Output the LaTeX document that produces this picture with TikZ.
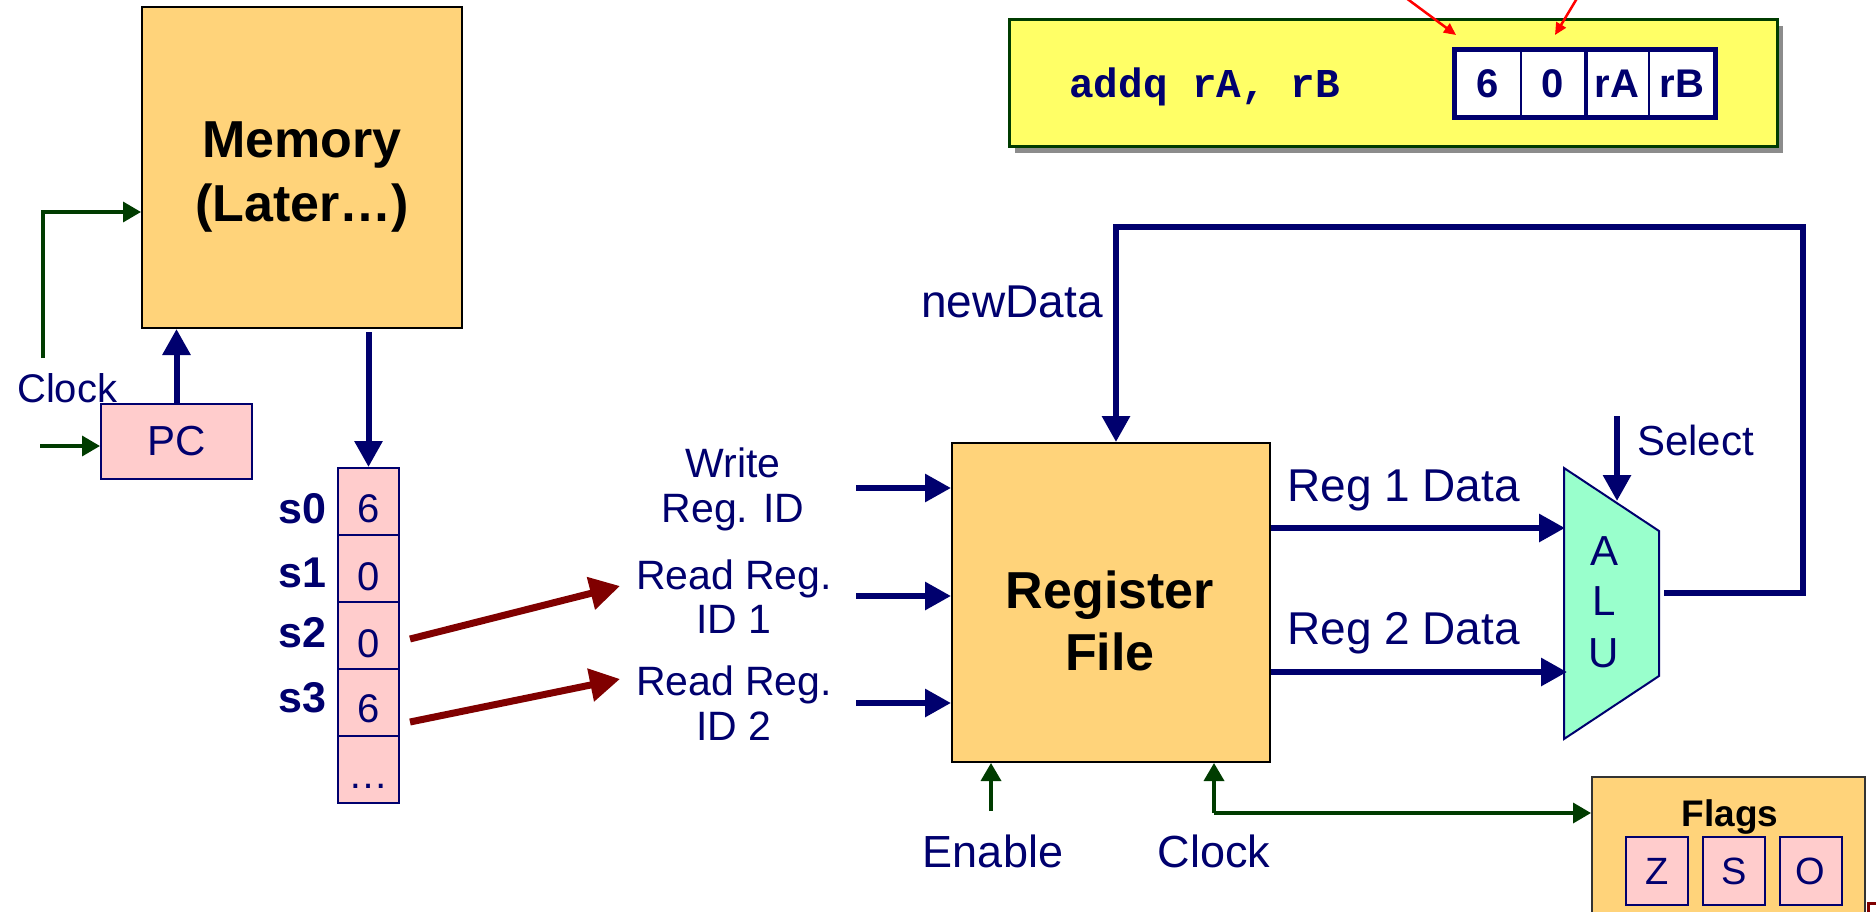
\documentclass[tikz,border=0pt]{standalone}
\usepackage{fontspec}
\setmainfont{Liberation Sans}
\setmonofont{Liberation Mono}
\usetikzlibrary{arrows.meta,shadows,calc}
\definecolor{navy}{RGB}{0,0,110}
\definecolor{dgreen}{RGB}{0,60,0}
\definecolor{dred}{RGB}{128,0,0}
\definecolor{boxor}{RGB}{255,211,122}
\definecolor{pinkc}{RGB}{255,204,204}
\definecolor{alugr}{RGB}{153,255,204}
\definecolor{yel}{RGB}{255,255,102}
\newcommand\fsz[1]{\fontsize{#1}{#1}\selectfont}
\begin{document}
\begin{tikzpicture}[x=1pt,y=-1pt,
  bus/.style={draw=navy,line width=6pt,-{Triangle[length=26pt,width=27pt]}},
  clk/.style={draw=dgreen,line width=3.5pt,-{Triangle[length=18pt,width=20pt]}},
  idarr/.style={draw=dred,line width=7pt,-{Triangle[length=30pt,width=32pt]}},
  thinred/.style={draw=red,line width=2.5pt,-{Triangle[length=12pt,width=11pt]}},
  unit/.style={draw=black,line width=2pt,fill=boxor,inner sep=0pt},
  cell/.style={draw=navy,line width=2pt,fill=pinkc,inner sep=0pt,text=navy,font=\fsz{40}},
  lbl/.style={text=navy,inner sep=0pt,font=\fsz{42}},
  big/.style={text=black,inner sep=0pt,font=\fsz{52}\bfseries},
  byte/.style={draw=navy,line width=1.5pt,fill=white,inner sep=0pt,text=navy,font=\fsz{40}\bfseries,minimum height=67pt},
  sreg/.style={text=navy,inner sep=0pt,font=\fsz{43}\bfseries,anchor=base east},
  flag/.style={draw=navy,line width=2pt,fill=pinkc,inner sep=0pt,text=navy,font=\fsz{38},minimum width=62pt,minimum height=68pt}
]
\useasboundingbox (0,0) rectangle (1876,912);
\fill[white] (0,0) rectangle (1876,912);

% ---------- instruction box ----------
\node[draw=dgreen,line width=3pt,fill=yel,minimum width=768pt,minimum height=127pt,
      drop shadow={shadow xshift=6pt,shadow yshift=-6pt,fill=black!45,opacity=1}] (instr) at (1393,83.5) {};
\node[anchor=base west,inner sep=0pt,text=navy,font=\fsz{41}\ttfamily\bfseries] (asm) at (1069,98) {addq rA, rB};
\node[byte,minimum width=66pt] (b0) at (1488,83.5) {6};
\node[byte,minimum width=64pt] (b1) at (1553,83.5) {0};
\node[byte,minimum width=64pt] (b2) at (1617,83.5) {rA};
\node[byte,minimum width=66pt] (b3) at (1682,83.5) {rB};
\draw[navy,line width=5pt] (b0.north west) rectangle (b3.south east);
\draw[navy,line width=4pt] (b1.north east) -- (b1.south east);
\coordinate (ra0) at (1402,-5);
\coordinate (ra1) at (1456,35);
\coordinate (rb0) at (1579,-5);
\coordinate (rb1) at (1555,35);
\draw[thinred] (ra0) -- (ra1);
\draw[thinred] (rb0) -- (rb1);

% ---------- memory and PC ----------
\node[unit,minimum width=320pt,minimum height=321pt] (mem) at (302,167.5) {};
\node[big,anchor=base] (memt1) at (302,158) {Memory};
\node[big,anchor=base] (memt2) at (302,222) {(Later…)};
\node[cell,font=\fsz{42},minimum width=151pt,minimum height=75pt] (pc) at (176.5,441.5) {PC};
\node[lbl,anchor=base west,font=\fsz{40}] (clkL) at (17,402) {Clock};
\coordinate (clk1) at (43,358);
\coordinate (y212) at (0,212);
\draw[clk] (clk1) |- (mem.west |- y212);
\coordinate (pcin) at (40,446);
\draw[clk] (pcin) -- (pcin -| pc.west);
\draw[bus] (pc.north) -- (pc.north |- mem.south);

% ---------- register column ----------
\node[cell,minimum width=61pt,minimum height=67pt] (c0) at (368.5,501.5) {};
\node[cell,minimum width=61pt,minimum height=67pt] (c1) at (368.5,568.5) {};
\node[cell,minimum width=61pt,minimum height=67pt] (c2) at (368.5,635.5) {};
\node[cell,minimum width=61pt,minimum height=67pt] (c3) at (368.5,702.5) {};
\node[cell,minimum width=61pt,minimum height=67pt] (c4) at (368.5,769.5) {};
\node[lbl,anchor=base,font=\fsz{40}] (v0) at (368.5,522) {6};
\node[lbl,anchor=base,font=\fsz{40}] (v1) at (368.5,590) {0};
\node[lbl,anchor=base,font=\fsz{40}] (v2) at (368.5,657) {0};
\node[lbl,anchor=base,font=\fsz{40}] (v3) at (368.5,722) {6};
\node[lbl,anchor=base,font=\fsz{40}] (dots) at (368.5,788) {…};
\node[sreg] (s0) at (327,523) {s0};
\node[sreg] (s1) at (327,587) {s1};
\node[sreg] (s2) at (327,647) {s2};
\node[sreg] (s3) at (327,712) {s3};
\draw[bus,shorten <=3pt] (c0.north |- mem.south) -- (c0.north);

% ---------- register IDs ----------
\coordinate (r1tip) at (620,586);
\coordinate (r2tip) at (620,679);
\draw[idarr] ([xshift=10pt,yshift=-3.5pt]c2.east) -- (r1tip);
\draw[idarr] ([xshift=10pt,yshift=-19.5pt]c3.east) -- (r2tip);
\node[lbl,anchor=base,font=\fsz{41}] (w1) at (733,477) {Write};
\node[lbl,anchor=base,font=\fsz{41}] (w2) at (733,522) {Reg. ID};
\node[lbl,anchor=base,font=\fsz{41}] (ra) at (734,589) {Read Reg.};
\node[lbl,anchor=base,font=\fsz{41}] (ra2) at (734,633) {ID 1};
\node[lbl,anchor=base,font=\fsz{41}] (rb) at (734,695) {Read Reg.};
\node[lbl,anchor=base,font=\fsz{41}] (rb2) at (734,740) {ID 2};

% ---------- register file ----------
\node[unit,minimum width=318pt,minimum height=319pt] (rf) at (1111,602.5) {};
\node[big,anchor=base] (rft1) at (1110,608) {Register};
\node[big,anchor=base] (rft2) at (1110,670) {File};
\coordinate (wid) at (856,488);
\coordinate (rid1) at (856,596);
\coordinate (rid2) at (856,703);
\draw[bus] (wid) -- (wid -| rf.west);
\draw[bus] (rid1) -- (rid1 -| rf.west);
\draw[bus] (rid2) -- (rid2 -| rf.west);

% ---------- ALU ----------
\draw[navy,line width=2pt,fill=alugr,line join=miter] (1564,468) -- (1659,531) -- (1659,676) -- (1564,739) -- cycle;
\node[lbl,anchor=base] (aA) at (1604,565) {A};
\node[lbl,anchor=base] (aL) at (1604,615) {L};
\node[lbl,anchor=base] (aU) at (1604,667) {U};
\coordinate (aluin1) at (1565,528);
\coordinate (aluin2) at (1567,672);
\draw[bus] (aluin1 -| rf.east) -- (aluin1);
\draw[bus] (aluin2 -| rf.east) -- (aluin2);
\node[lbl,anchor=base west,font=\fsz{46}] (d1) at (1287,501) {Reg 1 Data};
\node[lbl,anchor=base west,font=\fsz{46}] (d2) at (1287,644) {Reg 2 Data};
\coordinate (sel) at (1617,416);
\coordinate (seltip) at (1617,501);
\draw[bus] (sel) -- (seltip);
\node[lbl,anchor=base west] (selL) at (1637,455) {Select};
\coordinate (aluout) at (1664,593);
\coordinate (looptr) at (1803,227);
\coordinate (nd) at (1116,227);
\draw[bus,line join=miter] (aluout) -| (looptr) -- (nd) -- (nd |- rf.north);
\node[lbl,anchor=base east,font=\fsz{46}] (ndL) at (1103,317) {newData};

% ---------- enable / clock / flags ----------
\node[draw=black!80,line width=2pt,fill=boxor,minimum width=273pt,minimum height=183pt] (flags) at (1728.5,868.5) {};
\node[anchor=base,inner sep=0pt,font=\fsz{37}\bfseries] (flagsT) at (1730,826) {Flags};
\node[flag] (fz) at (1657,871) {Z};
\node[flag] (fs) at (1734,871) {S};
\node[flag] (fo) at (1810.5,871) {O};
\coordinate (en) at (991,811);
\coordinate (ck) at (1214,813);
\draw[clk] (en) -- (en |- rf.south);
\draw[clk] (ck) -- (ck |- rf.south);
\draw[clk] (ck) -- (ck -| flags.west);
\node[lbl,anchor=base,font=\fsz{45}] (enL) at (993,867) {Enable};
\node[lbl,anchor=base,font=\fsz{45}] (ckL) at (1214,867) {Clock};
\draw[dred,line width=3pt] (1868,930) -- (1868,903) -- (1890,903);
\end{tikzpicture}
\end{document}
